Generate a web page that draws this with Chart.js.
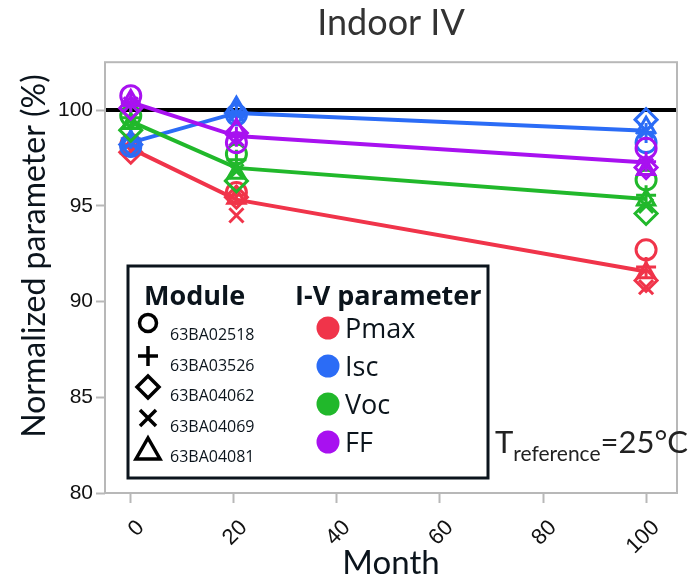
<!DOCTYPE html>
<html lang="en">
<head>
    <meta charset="UTF-8">
    <title>Indoor IV</title>
    <script src="https://cdn.jsdelivr.net/npm/chart.js"></script>
    <style>
        html, body {
            margin: 0;
            padding: 0;
            background: #fff;
        }
        #wrap {
            width: 691px;
            height: 580px;
        }
    </style>
</head>
<body>

<div id="wrap"><canvas id="ivChart" width="691" height="580"></canvas></div>

<script>
    // measurement times (months) and axis ticks
    const months = [0, 20.5, 100];
    const monthTicks = [0, 20, 40, 60, 80, 100];
    const yTicks = [80, 85, 90, 95, 100];

    const modules = ['63BA02518', '63BA03526', '63BA04062', '63BA04069', '63BA04081'];
    const params = ['Pmax', 'Isc', 'Voc', 'FF'];

    // normalized values (%), one row per module, columns = months
    const pmax = [
        [98.2, 95.7, 92.7],
        [98.1, 95.55, 91.8],
        [97.8, 95.45, 91.1],
        [97.9, 94.5, 90.75],
        [98.0, 95.4, 91.5]
    ];
    const isc = [
        [98.1, 99.75, 98.3],
        [98.5, 99.7, 98.8],
        [98.2, 99.85, 99.5],
        [98.3, 99.8, 98.9],
        [98.4, 100.15, 99.1]
    ];
    const voc = [
        [99.7, 97.7, 96.35],
        [99.6, 97.4, 95.55],
        [98.95, 96.3, 94.6],
        [99.5, 96.8, 95.0],
        [99.3, 96.7, 95.3]
    ];
    const ff = [
        [100.75, 98.3, 98.0],
        [100.4, 98.6, 97.3],
        [100.1, 98.8, 97.0],
        [100.3, 98.5, 97.1],
        [100.5, 99.0, 96.9]
    ];

    const paramData = [pmax, isc, voc, ff];
    const colors = ['#f0344a', '#2b6cf6', '#21b82b', '#a811f0'];
    const shapes = ['circle', 'cross', 'rectRot', 'crossRot', 'triangle'];

    function meanAt(rows, j) {
        let s = 0;
        rows.forEach(r => s += r[j]);
        return s / rows.length;
    }

    const datasets = [];
    paramData.forEach((rows, p) => {
        // trend line through the module average
        datasets.push({
            type: 'line',
            data: months.map((m, j) => ({ x: m, y: meanAt(rows, j) })),
            borderColor: colors[p],
            borderWidth: 4,
            pointRadius: 0,
            fill: false,
            order: 10 - p * 2
        });
        // one marker per module and month
        rows.forEach((r, k) => {
            datasets.push({
                type: 'scatter',
                data: months.map((m, j) => ({ x: m, y: r[j] })),
                pointStyle: shapes[k],
                pointRadius: shapes[k] === 'rectRot' ? 11 : 10,
                pointBorderWidth: 3,
                borderColor: colors[p],
                backgroundColor: 'rgba(0,0,0,0)',
                showLine: false,
                order: 9 - p * 2
            });
        });
    });

    const ink = '#0b141c';

    // frame, reference line at 100, axis titles and the legend box
    const decor = {
        id: 'decor',
        beforeDatasetsDraw(chart) {
            const ctx = chart.ctx;
            const a = chart.chartArea;
            const y100 = chart.scales.y.getPixelForValue(100);
            ctx.save();
            ctx.strokeStyle = '#000';
            ctx.lineWidth = 4;
            ctx.beginPath();
            ctx.moveTo(a.left, y100);
            ctx.lineTo(a.right, y100);
            ctx.stroke();

            // x axis title
            ctx.fillStyle = ink;
            ctx.font = '33px Lato, sans-serif';
            ctx.textAlign = 'center';
            ctx.textBaseline = 'alphabetic';
            ctx.fillText('Month', (a.left + a.right) / 2, 574);

            // y axis title
            ctx.translate(35, 256);
            ctx.rotate(-Math.PI / 2);
            ctx.font = '32px Lato, sans-serif';
            ctx.textBaseline = 'middle';
            ctx.fillText('Normalized parameter (%)', 0, 0);
            ctx.restore();
        },
        afterDatasetsDraw(chart) {
            const ctx = chart.ctx;
            const a = chart.chartArea;
            ctx.save();
            ctx.strokeStyle = '#b8b8b8';
            ctx.lineWidth = 2;
            ctx.strokeRect(a.left, a.top, a.right - a.left, a.bottom - a.top);

            // legend box
            ctx.fillStyle = '#fff';
            ctx.fillRect(128, 266, 360, 212);
            ctx.strokeStyle = ink;
            ctx.lineWidth = 3;
            ctx.strokeRect(128, 266, 360, 212);

            ctx.fillStyle = ink;
            ctx.textBaseline = 'alphabetic';
            ctx.font = 'bold 27px "Open Sans", sans-serif';
            ctx.fillText('Module', 144, 305);
            ctx.fillText('I-V parameter', 295, 305);

            ctx.font = '16px "Open Sans", sans-serif';
            const symY = [323, 356, 387, 418, 450];
            modules.forEach((m, k) => {
                ctx.fillStyle = ink;
                ctx.fillText(m, 170, 340 + k * 30.5);
                ctx.strokeStyle = '#000';
                ctx.lineWidth = 3.5;
                const x = 148, y = symY[k];
                ctx.beginPath();
                if (shapes[k] === 'circle') {
                    ctx.arc(x, y, 8.5, 0, Math.PI * 2);
                } else if (shapes[k] === 'cross') {
                    ctx.moveTo(x - 10, y); ctx.lineTo(x + 10, y);
                    ctx.moveTo(x, y - 10); ctx.lineTo(x, y + 10);
                } else if (shapes[k] === 'rectRot') {
                    ctx.moveTo(x, y - 11); ctx.lineTo(x + 11, y);
                    ctx.lineTo(x, y + 11); ctx.lineTo(x - 11, y);
                    ctx.closePath();
                } else if (shapes[k] === 'crossRot') {
                    ctx.moveTo(x - 8, y - 8); ctx.lineTo(x + 8, y + 8);
                    ctx.moveTo(x + 8, y - 8); ctx.lineTo(x - 8, y + 8);
                } else {
                    ctx.moveTo(x, y - 12); ctx.lineTo(x + 12, y + 9);
                    ctx.lineTo(x - 12, y + 9);
                    ctx.closePath();
                }
                ctx.stroke();
            });

            ctx.font = '27px "Open Sans", sans-serif';
            const dotY = [328, 366, 404, 442];
            params.forEach((p, i) => {
                ctx.fillStyle = colors[i];
                ctx.beginPath();
                ctx.arc(328, dotY[i], 11.5, 0, Math.PI * 2);
                ctx.fill();
                ctx.fillStyle = ink;
                ctx.fillText(p, 345, dotY[i] + 10);
            });

            // reference temperature note
            ctx.fillStyle = '#222';
            ctx.font = '31px Lato, sans-serif';
            ctx.fillText('T', 495, 453);
            const tw = ctx.measureText('T').width;
            ctx.font = '21px Lato, sans-serif';
            ctx.fillText('reference', 495 + tw, 461);
            const sw = ctx.measureText('reference').width;
            ctx.font = '31px Lato, sans-serif';
            ctx.fillText('=25°C', 495 + tw + sw, 453);
            ctx.restore();
        }
    };

    new Chart(document.getElementById('ivChart'), {
        data: { datasets: datasets },
        plugins: [decor],
        options: {
            responsive: false,
            animation: false,
            layout: { padding: { left: 0, right: 11, top: 0, bottom: 0 } },
            plugins: {
                legend: { display: false },
                tooltip: { enabled: false },
                title: {
                    display: true,
                    fullSize: false,
                    text: 'Indoor IV',
                    color: '#333',
                    font: { family: 'Lato, sans-serif', size: 36, weight: 'normal' },
                    padding: { top: 2, bottom: 17 }
                }
            },
            scales: {
                x: {
                    type: 'linear',
                    min: -5,
                    max: 106,
                    afterBuildTicks: s => { s.ticks = monthTicks.map(v => ({ value: v })); },
                    afterFit: s => { s.height = 87; },
                    grid: { drawOnChartArea: false, color: '#b8b8b8', tickLength: 10, tickWidth: 2 },
                    border: { display: false },
                    ticks: {
                        color: '#111',
                        font: { family: '"Liberation Sans", sans-serif', size: 22 },
                        maxRotation: 45,
                        minRotation: 45,
                        padding: 12,
                        labelOffset: 10
                    }
                },
                y: {
                    min: 80,
                    max: 102.5,
                    afterBuildTicks: s => { s.ticks = yTicks.map(v => ({ value: v })); },
                    afterFit: s => { s.width = 105; },
                    grid: { drawOnChartArea: false, color: '#b8b8b8', tickLength: 9, tickWidth: 2 },
                    border: { display: false },
                    ticks: {
                        color: '#111',
                        font: { family: '"Liberation Sans Narrow", "Liberation Sans", sans-serif', size: 21 },
                        padding: 3
                    }
                }
            }
        }
    });
</script>

</body>
</html>
